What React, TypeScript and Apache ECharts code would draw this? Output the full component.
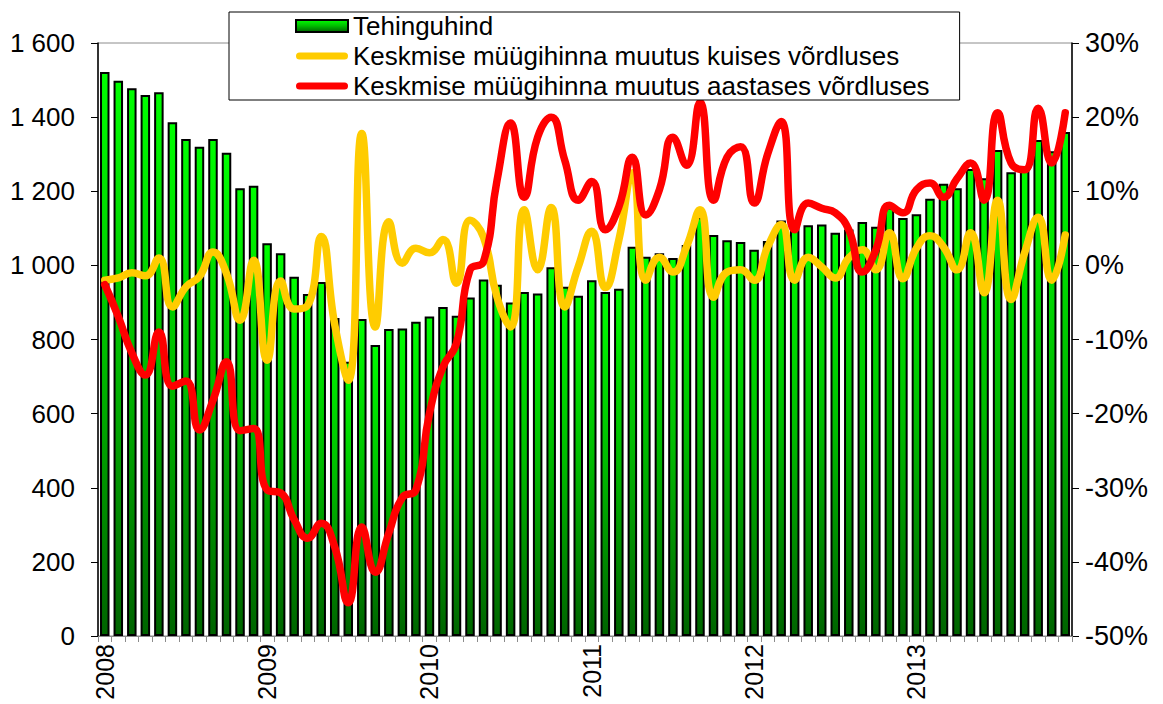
import React, { useEffect, useRef } from "react";
import * as echarts from "echarts";

const years = ["2008", "2009", "2010", "2011", "2012", "2013"];
const months = ["01", "02", "03", "04", "05", "06", "07", "08", "09", "10", "11", "12"];
const categories = years.flatMap((y) => months.map((m) => `${y}-${m}`));

const barName = "Tehinguhind";
const monthName = "Keskmise müügihinna muutus kuises võrdluses";
const yearName = "Keskmise müügihinna muutus aastases võrdluses";

// Tehinguhind (left axis)
const tehinguhind = [
  1522, 1498, 1478, 1460, 1467, 1386, 1341, 1320, 1341, 1304, 1208, 1215,
  1060, 1033, 969, 923, 955, 858, 740, 855, 785, 828, 830, 848,
  862, 888, 864, 913, 962, 948, 900, 928, 924, 995, 942, 918,
  960, 928, 937, 1050, 1023, 1033, 1020, 1055, 1130, 1082, 1068, 1063,
  1042, 1066, 1121, 1100, 1108, 1110, 1088, 1097, 1117, 1104, 1156, 1128,
  1138, 1180, 1220, 1208, 1260, 1235, 1311, 1251, 1257, 1338, 1308, 1360,
];

// monthly change, % (right axis)
const kuine = [
  -2.0, -1.7, -1.0, -1.4, 1.0, -5.6, -2.9, -1.5, 1.8, -1.1, -7.4, 0.7,
  -12.8, -2.1, -5.9, -5.4, 3.9, -8.0, -15.5, 17.8, -8.3, 5.9, 0.3, 2.3,
  1.7, 3.5, -2.4, 6.1, 3.8, -4.3, -8.3, 7.5, -0.6, 7.8, -5.6, -0.2,
  4.6, -3.0, 3.4, 12.5, -2.0, 1.1, -0.9, 2.5, 7.5, -4.3, -0.9, -0.6,
  -2.0, 2.5, 5.5, -2.0, 1.1, -0.2, -1.7, 1.0, 2.1, -0.6, 4.4, -1.8,
  2.3, 4.0, 2.5, -0.6, 4.4, -3.7, 8.8, -4.6, 1.7, 6.5, -2.0, 4.1,
];

// annual change, % (right axis)
const aastane = [
  -2.6, -6.9, -11.8, -14.8, -9.0, -16.3, -15.6, -22.2, -18.2, -13.0, -22.3, -22.0,
  -30.3, -30.7, -34.3, -36.8, -34.8, -38.0, -45.5, -35.3, -41.4, -36.1, -31.3, -30.3,
  -20.0, -13.7, -10.5, -0.6, 0.5, 11.5, 19.2, 9.2, 17.3, 20.0, 14.2, 8.8,
  11.3, 4.8, 7.9, 14.6, 6.8, 10.2, 17.3, 13.5, 22.0, 8.8, 14.6, 16.0,
  8.4, 15.0, 19.4, 4.8, 8.4, 7.7, 7.1, 4.8, -0.9, 2.1, 8.1, 7.1,
  10.2, 11.1, 9.2, 11.7, 13.8, 8.8, 20.6, 13.8, 12.9, 21.2, 13.8, 20.6,
];

const FONT = "'Liberation Sans', Arial, sans-serif";
const CAPSULE = "path://M3.5,0L48.5,0A3.5,3.5,0,0,1,48.5,7L3.5,7A3.5,3.5,0,0,1,3.5,0Z";

const fmtLeft = (v: number) =>
  v >= 1000 ? `${Math.floor(v / 1000)} ${String(v % 1000).padStart(3, "0")}` : String(v);

export default function App() {
  const ref = useRef<HTMLDivElement>(null);
  useEffect(() => {
    document.body.style.margin = "0";
    const chart = echarts.init(ref.current!, undefined, { renderer: "svg" });
    chart.setOption({
      animation: false,
      backgroundColor: "#fff",
      textStyle: { fontFamily: FONT },
      grid: {
        left: 98,
        right: 91,
        top: 43,
        bottom: 68,
        show: true,
        borderColor: "#8c8c8c",
        borderWidth: 1,
        backgroundColor: "transparent",
      },
      legend: {
        orient: "vertical",
        left: 229,
        top: 12,
        padding: [1, 30, 1, 66],
        itemGap: 4,
        itemWidth: 52,
        itemHeight: 12,
        symbolKeepAspect: true,
        borderColor: "#000",
        borderWidth: 1,
        backgroundColor: "#fff",
        textStyle: { fontSize: 26, color: "#000", fontFamily: FONT },
        data: [
          { name: barName, icon: "rect", itemStyle: { borderColor: "#000", borderWidth: 2 } },
          { name: monthName, icon: CAPSULE, itemStyle: { color: "#ffcc00" } },
          { name: yearName, icon: CAPSULE, itemStyle: { color: "#ff0000" } },
        ],
      },
      xAxis: {
        type: "category",
        data: categories,
        boundaryGap: true,
        axisLine: { lineStyle: { color: "#8c8c8c", width: 1 } },
        axisTick: { show: true, interval: 0, length: 6, lineStyle: { color: "#8c8c8c" } },
        axisLabel: {
          interval: (i: number) => i % 12 === 0,
          formatter: (v: string) => v.slice(0, 4),
          rotate: 90,
          margin: 8,
          fontSize: 25,
          color: "#000",
          fontFamily: FONT,
        },
        splitLine: { show: false },
      },
      yAxis: [
        {
          type: "value",
          min: 0,
          max: 1600,
          interval: 200,
          position: "left",
          axisLine: { show: true, lineStyle: { color: "#000", width: 1.5 } },
          axisTick: { show: true, length: 7, lineStyle: { color: "#000" } },
          axisLabel: { formatter: fmtLeft, fontSize: 26, color: "#000", margin: 23, fontFamily: FONT },
          splitLine: { show: false },
        },
        {
          type: "value",
          min: -50,
          max: 30,
          interval: 10,
          position: "right",
          axisLine: { show: true, lineStyle: { color: "#000", width: 1.5 } },
          axisTick: { show: true, length: 7, lineStyle: { color: "#000" } },
          axisLabel: { formatter: "{value}%", fontSize: 27, color: "#000", margin: 13, fontFamily: FONT },
          splitLine: { show: false },
        },
      ],
      series: [
        {
          name: barName,
          type: "bar",
          yAxisIndex: 0,
          data: tehinguhind,
          barWidth: 9.5,
          itemStyle: {
            color: new echarts.graphic.LinearGradient(0, 0, 0, 1, [
              { offset: 0, color: "#00ff00" },
              { offset: 0.5, color: "#00bb00" },
              { offset: 1, color: "#006400" },
            ]),
            borderColor: "#000",
            borderWidth: 2,
          },
          z: 1,
        },
        {
          name: monthName,
          type: "line",
          yAxisIndex: 1,
          data: kuine,
          smooth: 0.5,
          symbol: "none",
          lineStyle: { color: "#ffcc00", width: 7.5, cap: "round", join: "round" },
          itemStyle: { color: "#ffcc00" },
          z: 2,
        },
        {
          name: yearName,
          type: "line",
          yAxisIndex: 1,
          data: aastane,
          smooth: 0.5,
          symbol: "none",
          lineStyle: { color: "#ff0000", width: 7.5, cap: "round", join: "round" },
          itemStyle: { color: "#ff0000" },
          z: 3,
        },
      ],
    });
    return () => chart.dispose();
  }, []);
  return <div ref={ref} style={{ width: 1163, height: 704 }} />;
}
